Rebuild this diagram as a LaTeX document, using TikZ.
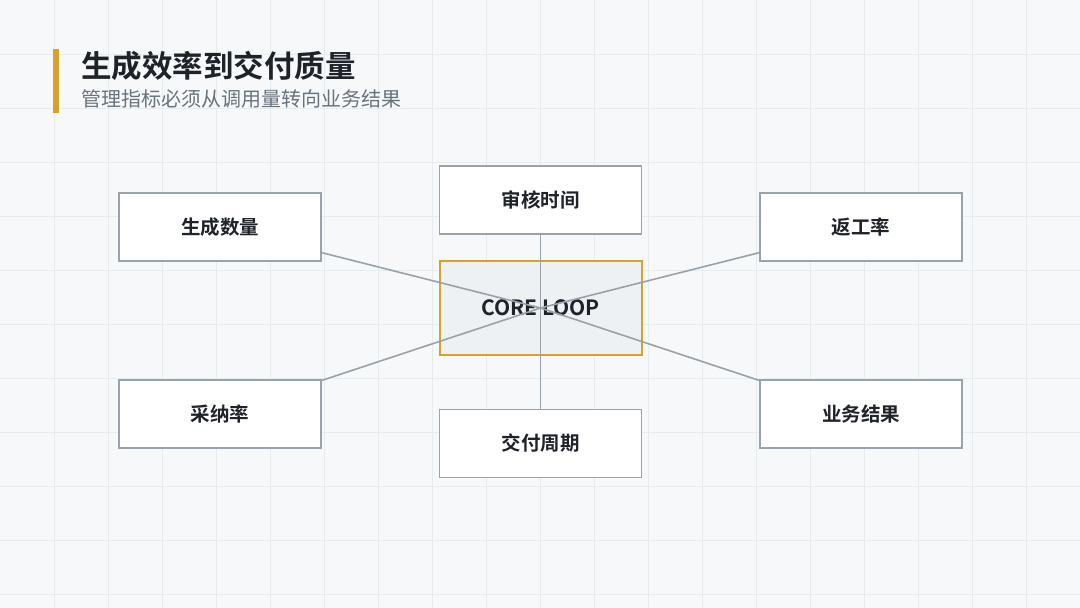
\documentclass[tikz,border=0pt]{standalone}
\usepackage{fontspec}
\setmainfont{Noto Sans CJK SC}[BoldFont={Noto Sans CJK SC Bold}]
\definecolor{bgc}{HTML}{F6F8F9}
\definecolor{gridc}{HTML}{E6EBEE}
\definecolor{textc}{HTML}{1F2329}
\definecolor{subc}{HTML}{69737D}
\definecolor{borderc}{HTML}{9AA3AB}
\definecolor{linec}{HTML}{9AA2A9}
\definecolor{accent}{HTML}{D9A02A}
\definecolor{corefill}{HTML}{EDF1F3}
\tikzset{
  outerbox/.style={draw=borderc, line width=1.6pt, fill=white, minimum width=202pt, minimum height=68pt, inner sep=0pt, font=\fontsize{19.5}{22}\selectfont\bfseries, text=textc},
  corebox/.style={draw=accent, line width=2pt, fill=corefill, minimum width=202pt, minimum height=94pt, inner sep=0pt, font=\fontsize{21}{24}\selectfont\bfseries, text=textc},
  conn/.style={draw=linec, line width=1.6pt}
}
\begin{document}
\begin{tikzpicture}[x=1pt,y=-1pt]
\useasboundingbox (0,0) rectangle (1080,608);
\fill[bgc] (0,0) rectangle (1080,608);
\foreach \i in {1,...,19} {\draw[gridc, line width=1pt] (\i*54,0) -- (\i*54,608);}
\foreach \j in {1,...,11} {\draw[gridc, line width=1pt] (0,\j*54) -- (1080,\j*54);}
% title
\fill[accent] (53,49) rectangle (59,113);
\node[anchor=west, inner sep=0pt, text=textc, font=\fontsize{30.5}{34}\selectfont\bfseries] (title) at (81,66) {生成效率到交付质量};
\node[anchor=west, inner sep=0pt, text=subc, font=\fontsize{20}{24}\selectfont] (sub) at (81,99) {管理指标必须从调用量转向业务结果};
% nodes
\node[corebox] (core) at (540.5,308) {CORE LOOP};
\node[outerbox] (a) at (220,227) {生成数量};
\node[outerbox] (b) at (540.5,200) {审核时间};
\node[outerbox] (c) at (861,227) {返工率};
\node[outerbox] (d) at (220,414) {采纳率};
\node[outerbox] (e) at (540.5,443.5) {交付周期};
\node[outerbox] (f) at (861,414) {业务结果};
% connectors
\foreach \n in {a,b,c,d,e,f} {\draw[conn] (core.center) -- (\n);}
\end{tikzpicture}
\end{document}
